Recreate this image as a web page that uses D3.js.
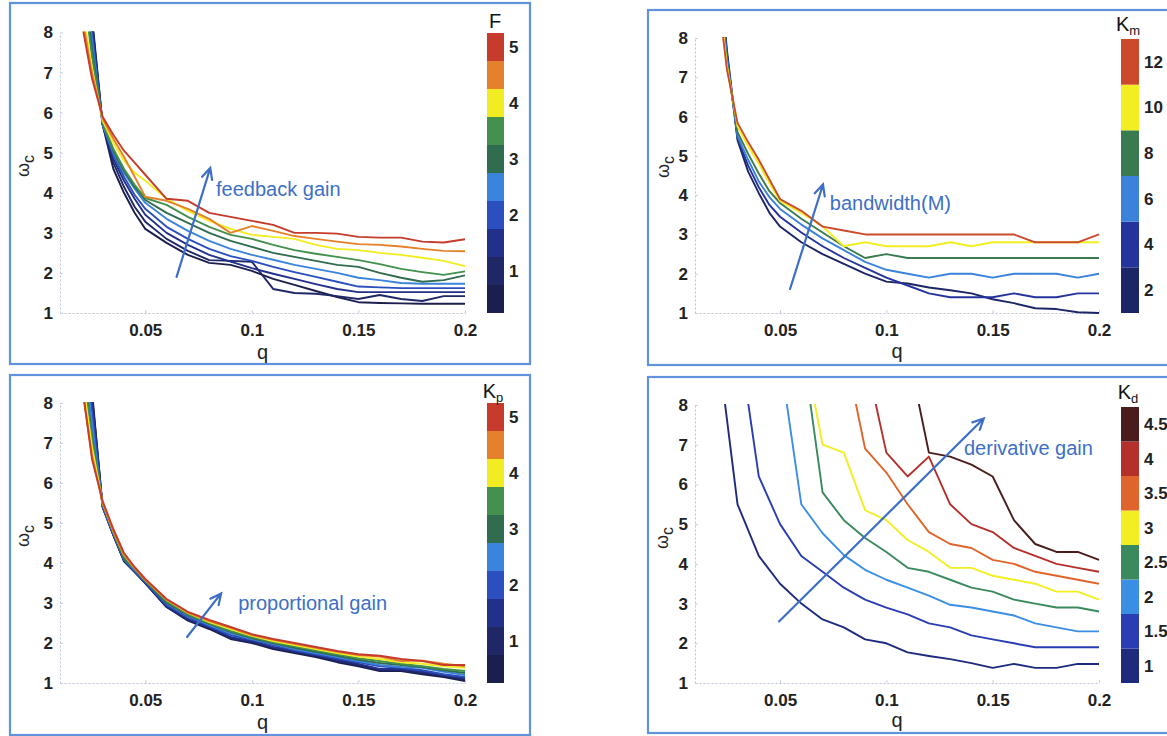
<!DOCTYPE html>
<html>
<head>
<meta charset="utf-8">
<script src="https://cdn.jsdelivr.net/npm/d3@7"></script>
<style>
body { margin: 0; background: #fff; }
svg { display: block; font-family: "Liberation Sans", Arial, Helvetica, sans-serif; }
</style>
</head>
<body>
<svg id="chart" width="1167" height="736"></svg>
<script>
// ---- data ----
var qGrid = [0.02, 0.025, 0.03, 0.035, 0.04, 0.045, 0.05, 0.06, 0.07, 0.08, 0.09,
             0.1, 0.11, 0.12, 0.13, 0.14, 0.15, 0.16, 0.17, 0.18, 0.19, 0.2];
var qGridD = [0.02, 0.03, 0.04, 0.05, 0.06, 0.07, 0.08, 0.09, 0.1, 0.11,
              0.12, 0.13, 0.14, 0.15, 0.16, 0.17, 0.18, 0.19, 0.2];
var qTicks = [0.05, 0.1, 0.15, 0.2];
var wTicks = [1, 2, 3, 4, 5, 6, 7, 8];

// feedback gain F
var fLevels = [0.5, 1, 1.5, 2, 2.5, 3, 3.5, 4, 4.5, 5];
var fTicks = [1, 2, 3, 4, 5];
var fColors = ['#1b1f4e', '#1f2766', '#22308a', '#2b4fbf', '#3b84dc',
               '#2f6c50', '#43914c', '#f2ec22', '#e5812c', '#c63b2b'];
var fSeries = [
  [12, 8.4, 5.7, 4.6, 4.0, 3.5, 3.1, 2.75, 2.45, 2.25, 2.2, 2.05, 1.85, 1.7, 1.55, 1.4, 1.27, 1.25, 1.24, 1.23, 1.23, 1.23],
  [12, 8.3, 5.7, 4.75, 4.15, 3.65, 3.28, 2.85, 2.55, 2.32, 2.3, 2.28, 1.6, 1.5, 1.48, 1.42, 1.35, 1.45, 1.35, 1.3, 1.42, 1.42],
  [11.5, 8.2, 5.7, 4.85, 4.3, 3.85, 3.45, 3.0, 2.7, 2.45, 2.28, 2.12, 1.98, 1.85, 1.72, 1.6, 1.52, 1.52, 1.52, 1.52, 1.52, 1.52],
  [11, 8.0, 5.7, 4.95, 4.4, 3.95, 3.6, 3.15, 2.85, 2.6, 2.42, 2.3, 2.15, 2.02, 1.9, 1.78, 1.66, 1.64, 1.62, 1.62, 1.62, 1.62],
  [10.5, 7.8, 5.7, 5.0, 4.5, 4.1, 3.75, 3.35, 3.05, 2.8, 2.6, 2.45, 2.33, 2.2, 2.1, 2.0, 1.88, 1.82, 1.75, 1.73, 1.73, 1.73],
  [10, 7.6, 5.75, 5.05, 4.55, 4.15, 3.82, 3.5, 3.25, 3.0, 2.8, 2.65, 2.5, 2.4, 2.3, 2.2, 2.15, 2.0, 1.88, 1.78, 1.82, 1.94],
  [9.5, 7.4, 5.75, 5.1, 4.6, 4.2, 3.87, 3.7, 3.4, 3.15, 2.95, 2.85, 2.7, 2.57, 2.48, 2.4, 2.32, 2.22, 2.1, 2.02, 1.95, 2.04],
  [8.8, 7.1, 5.8, 5.25, 4.8, 4.5, 4.3, 3.85, 3.55, 3.3, 3.1, 2.95, 2.9, 2.85, 2.7, 2.6, 2.57, 2.5, 2.45, 2.38, 2.3, 2.17],
  [8.5, 7.0, 5.85, 5.35, 4.9, 4.4, 3.9, 3.8, 3.6, 3.35, 3.0, 3.17, 3.05, 2.92, 2.85, 2.78, 2.72, 2.7, 2.66, 2.6, 2.55, 2.54],
  [8.3, 6.85, 5.9, 5.45, 5.05, 4.75, 4.45, 3.85, 3.8, 3.5, 3.4, 3.3, 3.2, 3.0, 3.0, 2.98, 2.9, 2.88, 2.88, 2.78, 2.76, 2.84]
];

// bandwidth Km
var kmLevels = [2, 4, 6, 8, 10, 12];
var kmColors = ['#1c2566', '#25339c', '#3b82da', '#3a7a50', '#f3ee22', '#cc4a2b'];
var kmSeries = [
  [10.7, 7.7, 5.4, 4.6, 4.05, 3.55, 3.2, 2.8, 2.5, 2.25, 2.0, 1.8, 1.75, 1.65, 1.58, 1.5, 1.35, 1.25, 1.12, 1.1, 1.02, 1.0],
  [10.5, 7.6, 5.45, 4.75, 4.2, 3.75, 3.45, 3.05, 2.7, 2.4, 2.15, 1.9, 1.7, 1.5, 1.4, 1.4, 1.4, 1.5, 1.4, 1.4, 1.5, 1.5],
  [10.3, 7.5, 5.5, 4.9, 4.35, 3.95, 3.65, 3.25, 2.9, 2.6, 2.3, 2.1, 2.0, 1.9, 2.0, 2.0, 1.9, 2.0, 2.0, 2.0, 1.9, 2.0],
  [10, 7.4, 5.6, 5.05, 4.55, 4.1, 3.8, 3.4, 3.05, 2.7, 2.4, 2.5, 2.4, 2.4, 2.4, 2.4, 2.4, 2.4, 2.4, 2.4, 2.4, 2.4],
  [9.8, 7.3, 5.75, 5.25, 4.8, 4.3, 3.85, 3.55, 3.2, 2.7, 2.8, 2.7, 2.7, 2.7, 2.8, 2.7, 2.8, 2.8, 2.8, 2.8, 2.8, 2.8],
  [9.5, 7.2, 5.84, 5.35, 4.9, 4.4, 3.9, 3.6, 3.2, 3.1, 3.0, 3.0, 3.0, 3.0, 3.0, 3.0, 3.0, 3.0, 2.8, 2.8, 2.8, 3.0]
];

// proportional gain Kp
var kpLevels = [0.5, 1, 1.5, 2, 2.5, 3, 3.5, 4, 4.5, 5];
var kpTicks = [1, 2, 3, 4, 5];
var kpSeries = [
  [11, 8.3, 5.4, 4.7, 4.05, 3.78, 3.5, 2.9, 2.56, 2.35, 2.1, 2.0, 1.85, 1.75, 1.65, 1.52, 1.42, 1.3, 1.3, 1.22, 1.15, 1.05],
  [10.8, 8.2, 5.4, 4.7, 4.05, 3.78, 3.5, 2.9, 2.58, 2.38, 2.12, 2.02, 1.88, 1.78, 1.68, 1.55, 1.45, 1.32, 1.32, 1.25, 1.18, 1.08],
  [10.5, 8.1, 5.4, 4.7, 4.05, 3.78, 3.5, 2.92, 2.6, 2.4, 2.15, 2.05, 1.9, 1.8, 1.7, 1.58, 1.48, 1.35, 1.35, 1.28, 1.2, 1.12],
  [10, 7.8, 5.4, 4.72, 4.08, 3.8, 3.52, 2.95, 2.65, 2.42, 2.2, 2.08, 1.95, 1.82, 1.72, 1.62, 1.52, 1.42, 1.38, 1.32, 1.22, 1.15],
  [9.6, 7.5, 5.45, 4.75, 4.1, 3.82, 3.55, 3.0, 2.68, 2.45, 2.25, 2.1, 1.98, 1.85, 1.75, 1.65, 1.55, 1.45, 1.4, 1.38, 1.28, 1.2],
  [9.3, 7.2, 5.45, 4.75, 4.1, 3.85, 3.55, 3.0, 2.7, 2.48, 2.28, 2.12, 2.0, 1.88, 1.78, 1.68, 1.58, 1.5, 1.45, 1.4, 1.32, 1.25],
  [9.2, 7.1, 5.5, 4.78, 4.15, 3.85, 3.56, 3.05, 2.72, 2.5, 2.3, 2.15, 2.02, 1.92, 1.82, 1.72, 1.62, 1.55, 1.48, 1.42, 1.35, 1.3],
  [8.8, 6.9, 5.5, 4.8, 4.2, 3.88, 3.58, 3.08, 2.75, 2.52, 2.35, 2.18, 2.05, 1.95, 1.85, 1.75, 1.66, 1.6, 1.52, 1.48, 1.42, 1.38],
  [8.5, 6.7, 5.5, 4.8, 4.2, 3.88, 3.58, 3.08, 2.76, 2.55, 2.38, 2.2, 2.08, 1.98, 1.88, 1.78, 1.7, 1.66, 1.55, 1.56, 1.48, 1.42],
  [8.6, 6.6, 5.55, 4.85, 4.25, 3.9, 3.6, 3.1, 2.78, 2.58, 2.4, 2.22, 2.1, 2.0, 1.9, 1.8, 1.72, 1.68, 1.6, 1.55, 1.45, 1.45]
];

// derivative gain Kd
var kdLevels = [1, 1.5, 2, 2.5, 3, 3.5, 4, 4.5];
var kdColors = ['#1e2a7c', '#2a3db2', '#3a8ee4', '#3a8a5e', '#f2ee22', '#e0652c', '#b5302a', '#4a1c1c'];
var kdSeries = [
  [9.8, 5.5, 4.2, 3.5, 3.0, 2.6, 2.4, 2.1, 2.0, 1.77, 1.68, 1.6, 1.5, 1.38, 1.48, 1.38, 1.38, 1.48, 1.48],
  [null, 9.9, 6.2, 5.0, 4.2, 3.8, 3.4, 3.1, 2.9, 2.73, 2.5, 2.4, 2.2, 2.1, 2.0, 1.9, 1.9, 1.9, 1.9],
  [null, null, null, 9.2, 5.5, 4.77, 4.22, 3.85, 3.6, 3.4, 3.2, 2.97, 2.9, 2.8, 2.7, 2.5, 2.4, 2.3, 2.3],
  [null, null, null, null, 9.7, 5.8, 5.1, 4.65, 4.3, 3.9, 3.8, 3.6, 3.4, 3.3, 3.1, 3.0, 2.9, 2.9, 2.8],
  [null, null, null, null, 9.8, 7.0, 6.8, 5.35, 5.1, 4.6, 4.3, 3.9, 3.9, 3.7, 3.6, 3.5, 3.3, 3.3, 3.1],
  [null, null, null, null, null, null, 9.5, 6.9, 6.3, 5.5, 4.8, 4.5, 4.4, 4.1, 4.0, 3.8, 3.7, 3.6, 3.5],
  [null, null, null, null, null, null, null, 9.25, 6.8, 6.2, 6.7, 5.5, 5.0, 4.8, 4.4, 4.2, 4.0, 3.9, 3.8],
  [null, null, null, null, null, null, null, null, null, 9.4, 6.8, 6.7, 6.5, 6.2, 5.1, 4.5, 4.3, 4.3, 4.1]
];

var blueNote = '#3d6fc6';
var svg = d3.select('#chart');

function arrowPath(x0, y0, x1, y1, len, ang) {
    var a = Math.atan2(y1 - y0, x1 - x0);
    var p1 = [x1 - len * Math.cos(a - ang), y1 - len * Math.sin(a - ang)];
    var p2 = [x1 - len * Math.cos(a + ang), y1 - len * Math.sin(a + ang)];
    return 'M' + x0 + ',' + y0 + 'L' + x1 + ',' + y1 +
        'M' + p1[0] + ',' + p1[1] + 'L' + x1 + ',' + y1 + 'L' + p2[0] + ',' + p2[1];
}

function drawPanel(p, idx) {
    var g = svg.append('g');

    g.append('rect')
        .attr('x', p.frame[0]).attr('y', p.frame[1])
        .attr('width', p.frame[2] - p.frame[0])
        .attr('height', p.frame[3] - p.frame[1])
        .attr('fill', 'none')
        .attr('stroke', '#6192dc')
        .attr('stroke-width', 2.2);

    var x = d3.scaleLinear().domain([0.01, 0.2]).range(p.xRange);
    var y = d3.scaleLinear().domain([1, 8]).range(p.yRange);

    // axes
    var xAxis = g.append('g')
        .attr('transform', 'translate(0,' + p.yRange[0] + ')')
        .call(d3.axisBottom(x).tickValues(qTicks).tickFormat(d3.format(''))
            .tickSizeInner(-3).tickSizeOuter(0).tickPadding(11));
    var yAxis = g.append('g')
        .attr('transform', 'translate(' + p.xRange[0] + ',0)')
        .call(d3.axisLeft(y).tickValues(wTicks).tickFormat(d3.format('d'))
            .tickSizeInner(-3).tickSizeOuter(0).tickPadding(7));
    [xAxis, yAxis].forEach(function(a) {
        a.select('.domain').attr('stroke', '#b9c2da').attr('stroke-dasharray', '2,2');
        a.selectAll('.tick line').attr('stroke', '#c8cfe2');
        a.selectAll('text')
            .attr('font-family', '"Liberation Sans", Arial, sans-serif')
            .attr('font-size', 17).attr('font-weight', 'bold').attr('fill', '#222');
    });

    // curves
    var clipId = 'clip' + idx;
    g.append('clipPath').attr('id', clipId)
        .append('rect')
        .attr('x', p.xRange[0]).attr('y', y(8) - 1)
        .attr('width', p.xRange[1] - p.xRange[0] + 2)
        .attr('height', y(1) - y(8) + 2);

    var line = d3.line()
        .defined(function(d) { return d[1] != null; })
        .x(function(d) { return x(d[0]); })
        .y(function(d) { return y(d[1]); });

    var lines = g.append('g').attr('clip-path', 'url(#' + clipId + ')');
    p.series.forEach(function(vals, i) {
        var pts = vals.map(function(v, j) { return [p.q[j], v]; });
        lines.append('path')
            .attr('d', line(pts))
            .attr('fill', 'none')
            .attr('stroke', p.colors[i])
            .attr('stroke-width', 1.9)
            .attr('stroke-linejoin', 'round');
    });

    // axis titles
    g.append('text')
        .attr('x', (p.xRange[0] + p.xRange[1]) / 2)
        .attr('y', p.qLabelY)
        .attr('text-anchor', 'middle')
        .attr('font-size', 20).attr('fill', '#222')
        .text('q');
    var wl = g.append('text')
        .attr('transform', 'translate(' + p.wLabel[0] + ',' + p.wLabel[1] + ') rotate(-90)')
        .attr('text-anchor', 'middle')
        .attr('fill', '#222');
    wl.append('tspan').attr('font-size', 18).text('\u03c9');
    wl.append('tspan').attr('font-size', 16).attr('dy', 5).text('c');

    // colorbar
    var cy = d3.scaleLinear().domain(p.cDomain).range(p.cRange);
    var step = p.levels[1] - p.levels[0];
    g.append('g').selectAll('rect')
        .data(p.levels)
        .enter().append('rect')
        .attr('x', p.cX[0])
        .attr('width', p.cX[1] - p.cX[0])
        .attr('y', function(d) { return cy(d + step / 2); })
        .attr('height', function(d) { return cy(d - step / 2) - cy(d + step / 2); })
        .attr('fill', function(d, i) { return p.barColors[i]; });
    var cAxis = g.append('g')
        .attr('transform', 'translate(' + p.cX[1] + ',0)')
        .call(d3.axisRight(cy).tickValues(p.cTicks).tickFormat(d3.format(''))
            .tickSize(0).tickPadding(5));
    cAxis.select('.domain').remove();
    cAxis.selectAll('text')
        .attr('font-family', '"Liberation Sans", Arial, sans-serif')
        .attr('font-size', 17).attr('font-weight', 'bold').attr('fill', '#222');

    var ct = g.append('text')
        .attr('x', p.cTitle[0]).attr('y', p.cTitle[1])
        .attr('text-anchor', 'middle')
        .attr('fill', '#111');
    ct.append('tspan').attr('font-size', 20).text(p.cName);
    if (p.cSub)
        ct.append('tspan').attr('font-size', 13).attr('dy', 4).text(p.cSub);

    // annotation
    var a = p.arrow;
    g.append('path')
        .attr('d', arrowPath(x(a[0]), y(a[1]), x(a[2]), y(a[3]), 12, 0.45))
        .attr('fill', 'none')
        .attr('stroke', blueNote)
        .attr('stroke-width', 2.2)
        .attr('stroke-linecap', 'round');
    g.append('text')
        .attr('x', x(p.note[0])).attr('y', y(p.note[1]))
        .attr('font-size', 20)
        .attr('fill', blueNote)
        .text(p.note[2]);
}

var panels = [
    {
        frame: [10, 3, 530, 364], xRange: [60, 465], yRange: [313, 32.5],
        q: qGrid, series: fSeries, colors: fColors, barColors: fColors, levels: fLevels,
        cX: [487, 504], cRange: [313, 33], cDomain: [0.25, 5.25], cTicks: fTicks,
        cName: 'F', cSub: null, cTitle: [495, 28],
        qLabelY: 359, wLabel: [29, 166],
        arrow: [0.0647, 1.9, 0.0805, 4.62], note: [0.0832, 3.92, 'feedback gain']
    },
    {
        frame: [648, 10, 1200, 365], xRange: [695, 1099], yRange: [313, 38],
        q: qGrid, series: kmSeries, colors: kmColors, barColors: kmColors, levels: kmLevels,
        cX: [1121, 1139], cRange: [313, 39], cDomain: [1, 13], cTicks: kmLevels,
        cName: 'K', cSub: 'm', cTitle: [1128, 31],
        qLabelY: 358, wLabel: [669, 167],
        arrow: [0.0547, 1.61, 0.0702, 4.27], note: [0.0734, 3.62, 'bandwidth(M)']
    },
    {
        frame: [10, 375, 530, 735], xRange: [60, 465], yRange: [683, 403],
        q: qGrid, series: kpSeries, colors: fColors, barColors: fColors, levels: kpLevels,
        cX: [487, 504], cRange: [683, 403], cDomain: [0.25, 5.25], cTicks: kpTicks,
        cName: 'K', cSub: 'p', cTitle: [493, 398],
        qLabelY: 729, wLabel: [29, 536],
        arrow: [0.0696, 2.15, 0.0856, 3.24], note: [0.0936, 2.83, 'proportional gain']
    },
    {
        frame: [648, 377, 1200, 733], xRange: [695, 1099], yRange: [683, 405],
        q: qGridD, series: kdSeries, colors: kdColors, barColors: kdColors, levels: kdLevels,
        cX: [1121, 1139], cRange: [683, 407], cDomain: [0.75, 4.75], cTicks: kdLevels,
        cName: 'K', cSub: 'd', cTitle: [1128, 399],
        qLabelY: 727, wLabel: [668, 538],
        arrow: [0.0495, 2.55, 0.1458, 7.66], note: [0.1365, 6.73, 'derivative gain']
    }
];

panels.forEach(drawPanel);
</script>
</body>
</html>
